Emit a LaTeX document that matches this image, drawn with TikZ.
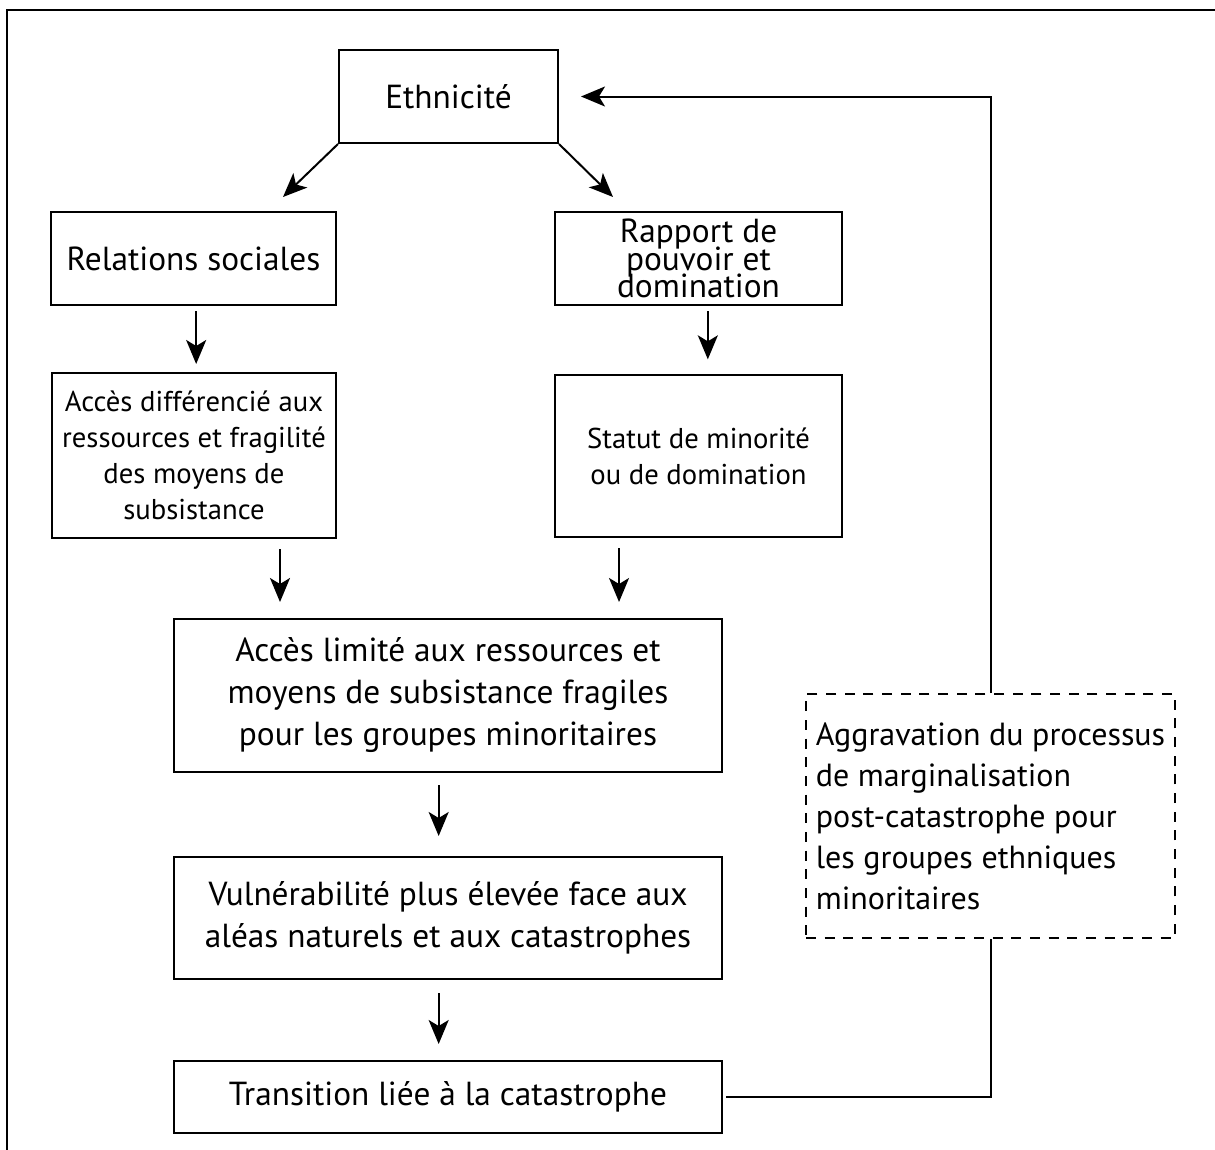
\documentclass[tikz,border=0pt]{standalone}
\usepackage{fontspec}
\setmainfont{PT Sans}
\usetikzlibrary{arrows.meta}
\newcommand\tightlines{\lineskiplimit -30pt\relax}
\begin{document}
\begin{tikzpicture}[x=0.75pt,y=-0.75pt,
  box/.style={draw, line width=1.5pt, rectangle, inner sep=0pt, align=center},
  big/.style={font=\fontsize{25}{31.5}\selectfont},
  tight/.style={font={\fontsize{25}{20.6}\selectfont\tightlines}},
  small/.style={font=\fontsize{21.5}{27}\selectfont},
  arr/.style={line width=1.5pt, -{Stealth[length=18pt,width=15pt,inset=4.5pt]}},
  link/.style={line width=1.5pt},
  dashbox/.style={draw, line width=1.2pt, dash pattern=on 7.5pt off 6.5pt, rectangle, inner sep=0pt, align=left, font=\fontsize{24}{30.75}\selectfont}]
\useasboundingbox (0,0) rectangle (1215,1150);
\draw[line width=1.8pt] (7,1150) -- (7,10) -- (1215,10);

\node[box,big,minimum width=164.25pt,minimum height=69.75pt] (eth) at (448.5,96.5) {Ethnicité};
\node[box,big,minimum width=213.75pt,minimum height=69.75pt] (rel) at (193.5,258.5) {Relations sociales};
\node[box,tight,minimum width=215.25pt,minimum height=69.75pt] (rap) at (698.5,258.5) {Rapport de\\pouvoir et\\domination};
\node[box,small,minimum width=213pt,minimum height=123.75pt] (accd) at (194,455.5) {Accès différencié aux\\ressources et fragilité\\des moyens de\\subsistance};
\node[box,small,minimum width=215.25pt,minimum height=121.5pt] (stat) at (698.5,456) {Statut de minorité\\ou de domination};
\node[box,big,minimum width=411pt,minimum height=114.75pt] (accl) at (448,695.5) {Accès limité aux ressources et\\moyens de subsistance fragiles\\pour les groupes minoritaires};
\node[box,big,minimum width=411pt,minimum height=91.5pt] (vul) at (448,918) {Vulnérabilité plus élevée face aux\\aléas naturels et aux catastrophes};
\node[box,big,minimum width=411pt,minimum height=54pt] (tra) at (448,1097) {Transition liée à la catastrophe};
\node[dashbox,minimum width=276.75pt,minimum height=183pt] (agg) at (990.5,816) {Aggravation du processus\\de marginalisation\\post-catastrophe pour\\les groupes ethniques\\minoritaires};

\coordinate (t1) at (283,197);
\coordinate (t2) at (613,197);
\draw[arr] (eth.south west) -- (t1);
\draw[arr] (eth.south east) -- (t2);

\draw[arr,shorten <=3.75pt,shorten >=6pt] ([xshift=2pt]rel.south) -- ([xshift=2pt]rel.south |- accd.north);
\draw[arr,shorten <=3.75pt,shorten >=11pt] ([xshift=7pt]rap.south) -- ([xshift=7pt]rap.south |- stat.north);
\draw[arr,shorten <=7.5pt,shorten >=12pt] ([xshift=64.5pt]accd.south) -- ([xshift=64.5pt]accd.south |- accl.north);
\draw[arr,shorten <=7.5pt,shorten >=12pt] ([xshift=-59.6pt]stat.south) -- ([xshift=-59.6pt]stat.south |- accl.north);
\draw[arr,shorten <=9pt,shorten >=15pt] ([xshift=-7pt]accl.south) -- ([xshift=-7pt]accl.south |- vul.north);
\draw[arr,shorten <=9.75pt,shorten >=12pt] ([xshift=-7pt]vul.south) -- ([xshift=-7pt]vul.south |- tra.north);

\draw[link,shorten <=2.25pt] (tra.east) -| (agg.south);
\draw[arr,shorten >=16.5pt] (agg.north) |- (eth.east);
\end{tikzpicture}
\end{document}
